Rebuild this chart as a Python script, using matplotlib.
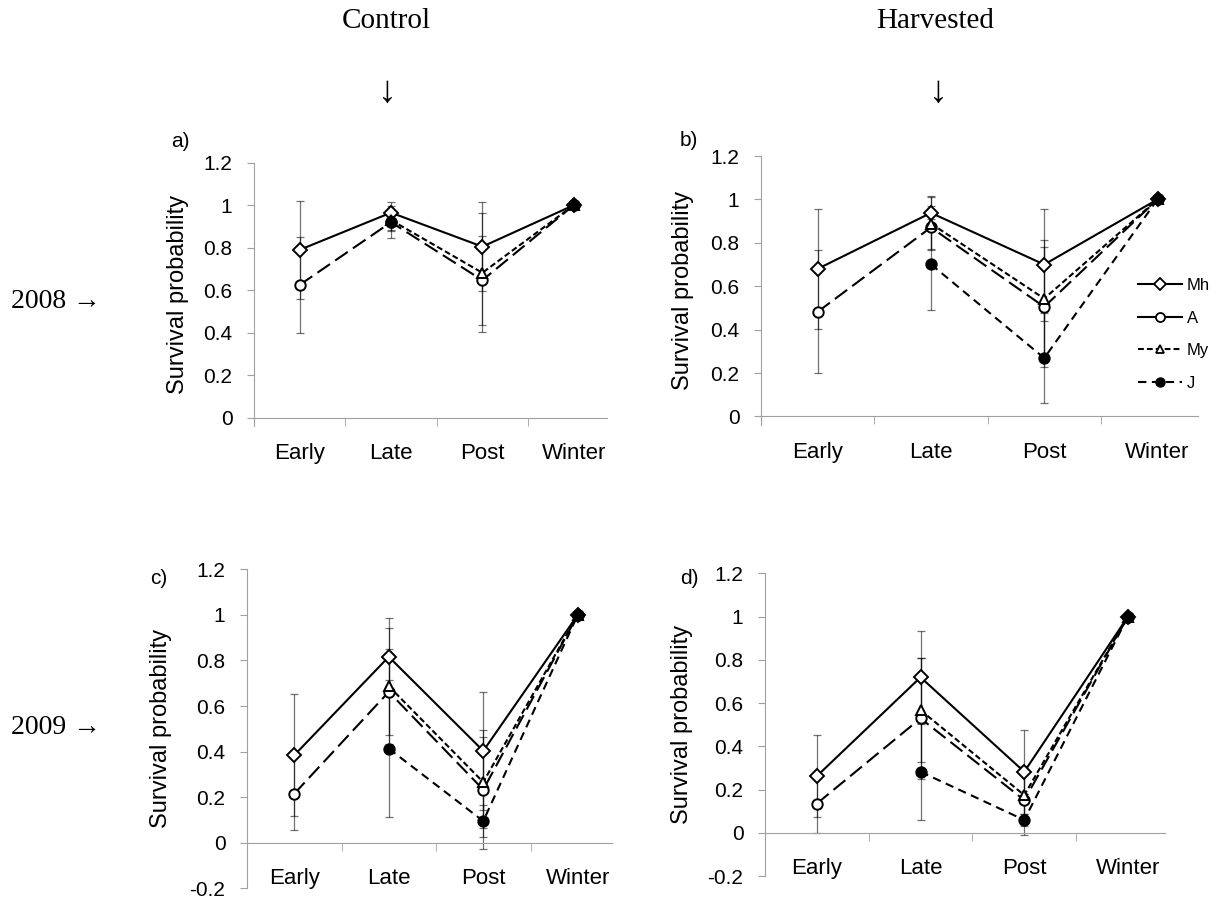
import numpy as np
import matplotlib
matplotlib.use("Agg")
import matplotlib.pyplot as plt
from matplotlib.lines import Line2D

plt.rcParams['font.family'] = ['Liberation Sans', 'DejaVu Sans']
plt.rcParams['lines.scale_dashes'] = False

categories = ['Early', 'Late', 'Post', 'Winter']
series_names = ['Mh', 'A', 'My', 'J']
nan = np.nan

# Panel a) 2008 Control
a_Mh = [0.79, 0.965, 0.805, 1.0];   a_Mh_err = [0.23, 0.05, 0.21, nan]
a_A = [0.625, 0.92, 0.647, 1.0];    a_A_err = [0.225, 0.076, 0.21, nan]
a_My = [nan, 0.93, 0.682, 1.0];     a_My_err = [nan, 0.045, 0.28, nan]
a_J = [nan, 0.92, nan, 1.0];        a_J_err = [nan, 0.04, nan, nan]

# Panel b) 2008 Harvested
b_Mh = [0.68, 0.938, 0.70, 1.0];    b_Mh_err = [0.277, 0.08, 0.258, nan]
b_A = [0.482, 0.871, 0.505, 1.0];   b_A_err = [0.283, 0.1, 0.276, nan]
b_My = [nan, 0.889, 0.543, 1.0];    b_My_err = [nan, 0.12, 0.27, nan]
b_J = [nan, 0.701, 0.269, 1.0];     b_J_err = [nan, 0.21, 0.208, nan]

# Panel c) 2009 Control
c_Mh = [0.384, 0.816, 0.403, 1.0];  c_Mh_err = [0.268, 0.17, 0.26, nan]
c_A = [0.215, 0.662, 0.233, 1.0];   c_A_err = [0.16, 0.19, 0.26, nan]
c_My = [nan, 0.687, 0.266, 1.0];    c_My_err = [nan, 0.255, 0.2, nan]
c_J = [nan, 0.413, 0.095, 1.0];     c_J_err = [nan, 0.30, 0.07, nan]

# Panel d) 2009 Harvested
d_Mh = [0.262, 0.719, 0.282, 1.0];  d_Mh_err = [0.19, 0.215, 0.193, nan]
d_A = [0.135, 0.529, 0.151, 1.0];   d_A_err = [0.135, 0.28, 0.16, nan]
d_My = [nan, 0.567, 0.174, 1.0];    d_My_err = [nan, 0.24, 0.12, nan]
d_J = [nan, 0.282, 0.059, 1.0];     d_J_err = [nan, 0.225, 0.03, nan]

ticks_pos = [0, 0.2, 0.4, 0.6, 0.8, 1.0, 1.2]
ticks_pos_lbl = ['0', '0.2', '0.4', '0.6', '0.8', '1', '1.2']
ticks_neg = [-0.2, 0, 0.2, 0.4, 0.6, 0.8, 1.0, 1.2]
ticks_neg_lbl = ['-0.2', '0', '0.2', '0.4', '0.6', '0.8', '1', '1.2']

W, H = 1227, 900
fig = plt.figure(figsize=(W / 100, H / 100), dpi=100)

styles = {
    'Mh': dict(marker='D', ms=7.5, mfc='white', dashes=None),
    'A': dict(marker='o', ms=7.5, mfc='white', dashes=(11, 4.5)),
    'My': dict(marker='^', ms=7, mfc='white', dashes=(4.2, 2.2)),
    'J': dict(marker='o', ms=7.5, mfc='black', dashes=(6, 4)),
}
zorders = {'Mh': 4, 'A': 5, 'My': 6, 'J': 7}

GRAY = '#a0a0a0'

def make_panel(rect_px, ylims, yticks, ylbls, data, letter, letter_xy, ylabel_x):
    left, top, width, bottom = rect_px
    ax = fig.add_axes([left / W, 1 - bottom / H, width / W, (bottom - top) / H])
    x = np.arange(len(categories))
    for name, (vals, errs) in zip(series_names, data):
        ax.errorbar(x, np.array(vals, float), yerr=np.array(errs, float), fmt='none',
                    ecolor='black', alpha=0.55, elinewidth=0.9, capsize=3,
                    capthick=0.9, zorder=2)
    for name, (vals, errs) in zip(series_names, data):
        st = styles[name]
        line, = ax.plot(x, np.array(vals, float), color='black', lw=1.5,
                        marker=st['marker'], ms=st['ms'], mfc=st['mfc'],
                        mec='black', mew=1.4, zorder=zorders[name])
        if st['dashes'] is not None:
            line.set_dashes(st['dashes'])
    ax.set_xlim(-0.5, 3.36)
    ax.set_ylim(*ylims)
    for s in ['top', 'right']:
        ax.spines[s].set_visible(False)
    ax.spines['left'].set_color(GRAY)
    ax.spines['bottom'].set_color(GRAY)
    ax.spines['bottom'].set_position(('data', 0))
    ax.set_yticks(yticks)
    ax.set_yticklabels(ylbls)
    ax.tick_params(axis='y', length=5, color=GRAY, pad=10.5, labelsize=15)
    ax.set_xticks(x)
    ax.set_xticklabels(categories)
    ax.set_xticks([-0.5, 0.5, 1.5, 2.5], minor=True)
    ax.tick_params(axis='x', which='major', length=0, pad=18.5, labelsize=16)
    ax.tick_params(axis='x', which='minor', length=6, color=GRAY, direction='out')
    ax.set_ylabel('Survival probability', fontsize=17)
    ax.yaxis.set_label_coords((ylabel_x - left) / width, 0.5)
    fig.text(letter_xy[0] / W, 1 - letter_xy[1] / H, letter, fontsize=15,
             ha='center', va='center')
    return ax

ax_a = make_panel((254, 162.7, 352.6, 425.8), (-0.038, 1.2), ticks_pos, ticks_pos_lbl,
                  [(a_Mh, a_Mh_err), (a_A, a_A_err), (a_My, a_My_err), (a_J, a_J_err)],
                  'a)', (180, 141), 189)
ax_b = make_panel((761, 156, 437.3, 424.7), (-0.038, 1.2), ticks_pos, ticks_pos_lbl,
                  [(b_Mh, b_Mh_err), (b_A, b_A_err), (b_My, b_My_err), (b_J, b_J_err)],
                  'b)', (689, 140), 694)
ax_c = make_panel((247, 569.3, 364.8, 888.3), (-0.2, 1.2), ticks_neg, ticks_neg_lbl,
                  [(c_Mh, c_Mh_err), (c_A, c_A_err), (c_My, c_My_err), (c_J, c_J_err)],
                  'c)', (159, 578), 172)
ax_d = make_panel((765, 573.3, 400.3, 876), (-0.2, 1.2), ticks_neg, ticks_neg_lbl,
                  [(d_Mh, d_Mh_err), (d_A, d_A_err), (d_My, d_My_err), (d_J, d_J_err)],
                  'd)', (689, 578), 693)

# legend (panel b)
handles = [
    Line2D([], [], color='black', lw=1.5, marker='D', ms=6, mfc='white', mec='black', mew=1.3),
    Line2D([], [], color='black', lw=1.5, marker='o', ms=6.5, mfc='white', mec='black', mew=1.3),
    Line2D([], [], color='black', lw=1.5, marker='^', ms=6, mfc='white', mec='black', mew=1.3,
           ls=(0, (4.2, 2.2))),
    Line2D([], [], color='black', lw=1.5, marker='o', ms=6.5, mfc='black', mec='black',
           ls=(0, (6, 4))),
]
fig.legend(handles, series_names, loc='center left',
           bbox_to_anchor=(1131 / W, 1 - 334.5 / H), frameon=False, fontsize=12,
           handlelength=2.65, handletextpad=0.3, labelspacing=1.05, borderaxespad=0,
           borderpad=0.4)

serif = ['Liberation Serif', 'DejaVu Serif']
fig.text(386 / W, 1 - 21 / H, 'Control', family=serif, fontsize=21, ha='center', va='center')
fig.text(935 / W, 1 - 21 / H, 'Harvested', family=serif, fontsize=21, ha='center', va='center')
fig.text(387 / W, 1 - 93 / H, '\u2193', family=serif, fontsize=27, ha='center', va='center')
fig.text(938 / W, 1 - 93 / H, '\u2193', family=serif, fontsize=27, ha='center', va='center')
fig.text(11 / W, 1 - 302 / H, '2008 \u2192', family=serif, fontsize=20, ha='left', va='center')
fig.text(11 / W, 1 - 728 / H, '2009 \u2192', family=serif, fontsize=20, ha='left', va='center')

fig.savefig('out.png', dpi=100)
